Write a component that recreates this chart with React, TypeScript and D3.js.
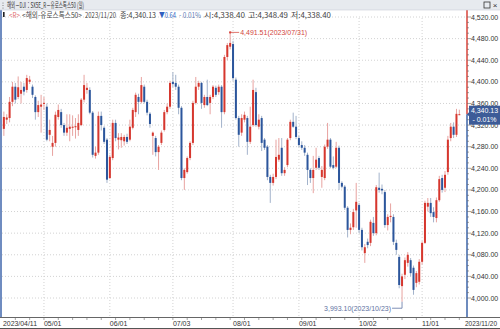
import React from 'react';
import * as d3 from 'd3';

// ---- DATA ----
const firstDate = '2023-04-11';
const lastDate = '2023-11-20';

const opens = [
  4313, 4330, 4333, 4363, 4391, 4372, 4378, 4391, 4385, 4400,
  4391, 4372, 4344, 4354, 4360, 4354, 4302, 4280, 4287, 4335,
  4344, 4320, 4306, 4313, 4315, 4316, 4311, 4320, 4367, 4385,
  4385, 4343, 4263, 4269, 4337, 4315, 4293, 4222, 4259, 4324,
  4293, 4292, 4290, 4298, 4293, 4315, 4344, 4372, 4363, 4391,
  4363, 4341, 4300, 4296, 4270, 4287, 4311, 4344, 4354, 4400,
  4398, 4391, 4352, 4222, 4233, 4259, 4287, 4361, 4391, 4398,
  4357, 4372, 4361, 4372, 4389, 4381, 4391, 4344, 4446, 4465,
  4470, 4404, 4333, 4306, 4330, 4333, 4289, 4320, 4381, 4317,
  4333, 4293, 4280, 4224, 4213, 4224, 4256, 4278, 4231, 4246,
  4296, 4326, 4317, 4296, 4283, 4278, 4265, 4237, 4222, 4241,
  4259, 4224, 4222, 4280, 4293, 4246, 4243, 4278, 4213, 4206,
  4167, 4126, 4131, 4162, 4172, 4126, 4083, 4104, 4102, 4139,
  4120, 4204, 4202, 4196, 4135, 4150, 4150, 4102, 4076, 4022,
  4043, 4065, 4070, 4056, 4028, 4030, 4067, 4102, 4169, 4176,
  4159, 4148, 4181, 4222, 4204, 4233, 4296, 4317, 4302, 4338.40,
];
const highs = [
  4345, 4340, 4372, 4400, 4398, 4410, 4400, 4398, 4413, 4411,
  4395, 4375, 4365, 4376, 4372, 4360, 4330, 4300, 4345, 4358,
  4350, 4324, 4340, 4340, 4338, 4333, 4340, 4370, 4413, 4398,
  4390, 4346, 4280, 4345, 4345, 4318, 4296, 4265, 4330, 4330,
  4305, 4305, 4302, 4304, 4330, 4352, 4380, 4378, 4409, 4395,
  4367, 4344, 4308, 4300, 4283, 4310, 4348, 4360, 4402, 4418,
  4413, 4395, 4355, 4240, 4262, 4290, 4365, 4409, 4402, 4400,
  4376, 4404, 4376, 4394, 4393, 4395, 4394, 4450, 4472, 4491.51,
  4476, 4408, 4337, 4340, 4345, 4337, 4354, 4404, 4389, 4340,
  4337, 4296, 4283, 4228, 4230, 4293, 4296, 4296, 4242, 4296,
  4330, 4343, 4337, 4300, 4290, 4283, 4269, 4240, 4263, 4278,
  4263, 4244, 4284, 4324, 4296, 4262, 4289, 4282, 4216, 4209,
  4170, 4138, 4165, 4213, 4176, 4130, 4100, 4110, 4145, 4150,
  4209, 4232, 4210, 4200, 4155, 4175, 4155, 4108, 4080, 4045,
  4075, 4085, 4074, 4060, 4050, 4072, 4105, 4180, 4185, 4185,
  4168, 4186, 4226, 4228, 4235, 4300, 4324, 4325, 4350, 4348.49,
];
const lows = [
  4300, 4322, 4325, 4355, 4360, 4368, 4360, 4375, 4380, 4396,
  4370, 4330, 4335, 4306, 4348, 4290, 4290, 4263, 4280, 4330,
  4315, 4300, 4300, 4290, 4300, 4295, 4300, 4318, 4362, 4378,
  4340, 4260, 4258, 4265, 4310, 4285, 4213, 4220, 4255, 4290,
  4275, 4278, 4282, 4285, 4290, 4312, 4335, 4340, 4360, 4360,
  4338, 4315, 4265, 4262, 4237, 4283, 4308, 4340, 4350, 4390,
  4385, 4340, 4218, 4200, 4230, 4255, 4283, 4358, 4385, 4350,
  4352, 4355, 4340, 4368, 4372, 4376, 4315, 4340, 4440, 4460,
  4402, 4330, 4280, 4300, 4325, 4265, 4285, 4317, 4317, 4312,
  4272, 4274, 4218, 4176, 4208, 4220, 4252, 4226, 4226, 4242,
  4292, 4315, 4294, 4279, 4274, 4263, 4209, 4213, 4194, 4237,
  4237, 4204, 4218, 4276, 4240, 4238, 4240, 4200, 4203, 4163,
  4112, 4118, 4126, 4130, 4120, 4088, 4065, 4092, 4096, 4115,
  4116, 4195, 4192, 4130, 4125, 4140, 4098, 4080, 4018, 3993.10,
  4035, 4058, 4040, 4006, 4020, 4025, 4062, 4100, 4160, 4150,
  4140, 4140, 4178, 4195, 4196, 4228, 4290, 4296, 4298, 4338.40,
];
const closes = [
  4335, 4334, 4363, 4391, 4367, 4390, 4385, 4382, 4407, 4404,
  4376, 4344, 4357, 4358, 4361, 4293, 4311, 4287, 4339, 4348,
  4320, 4306, 4315, 4317, 4317, 4318, 4324, 4367, 4394, 4389,
  4343, 4265, 4269, 4337, 4320, 4289, 4219, 4261, 4324, 4296,
  4297, 4298, 4298, 4289, 4317, 4348, 4376, 4363, 4394, 4363,
  4343, 4322, 4306, 4270, 4280, 4306, 4344, 4354, 4398, 4396,
  4391, 4352, 4222, 4237, 4259, 4287, 4361, 4391, 4398, 4361,
  4372, 4357, 4372, 4391, 4376, 4391, 4344, 4446, 4468, 4472,
  4407, 4333, 4302, 4333, 4339, 4289, 4317, 4385, 4320, 4330,
  4287, 4278, 4224, 4213, 4224, 4261, 4265, 4231, 4237, 4293,
  4326, 4317, 4298, 4283, 4278, 4269, 4237, 4222, 4237, 4256,
  4241, 4237, 4280, 4293, 4243, 4241, 4278, 4213, 4206, 4167,
  4126, 4130, 4159, 4178, 4126, 4094, 4094, 4098, 4141, 4120,
  4205, 4200, 4199, 4135, 4150, 4152, 4104, 4089, 4024, 4040,
  4070, 4080, 4046, 4015, 4046, 4067, 4102, 4176, 4176, 4157,
  4150, 4181, 4220, 4200, 4228, 4293, 4317, 4302, 4340.77, 4340.13,
];

const yTickValues = [4000, 4040, 4080, 4120, 4160, 4200, 4240, 4280, 4320, 4360, 4400, 4440, 4480, 4520];
const monthTickDates = ['2023-05-01', '2023-06-01', '2023-07-03', '2023-08-01', '2023-09-01', '2023-10-02', '2023-11-01'];
const monthTickLabels = ['05/01', '06/01', '07/03', '08/01', '09/01', '10/02', '11/01'];
const firstLabel = '2023/04/11';
const lastLabel = '2023/11/20';

const titleText = '해외－DJI：SX5E_R－유로스톡스50 (일)';
const seriesName = '<해외-유로스톡스50>';
const highLabelDate = '2023/07/31';
const lowLabelDate = '2023/10/23';

function tradingDays(start: string, end: string): string[] {
  const out: string[] = [];
  const d = new Date(start + 'T00:00:00Z');
  const e = new Date(end + 'T00:00:00Z');
  while (d <= e) {
    const w = d.getUTCDay();
    if (w !== 0 && w !== 6) out.push(d.toISOString().slice(0, 10));
    d.setUTCDate(d.getUTCDate() + 1);
  }
  return out;
}

const dates = tradingDays(firstDate, lastDate);

const UP = '#d6372e';
const DOWN = '#2c569c';
const UP_WICK = '#e8a3a0';
const DOWN_WICK = '#a3b3cb';

export default function App() {
  const W = 500, H = 329;
  const n = closes.length;
  const x = d3.scaleBand<number>().domain(d3.range(n)).range([2, 461.2]).padding(0.3);
  const y = d3.scaleLinear().domain([4000, 4520]).range([298, 17]);
  const bw = x.bandwidth();
  const cx = (i: number) => (x(i) as number) + bw / 2;
  const fmt = d3.format(',.2f');
  const axisX = 467;
  const xAxisY = 317;
  const last = n - 1;
  const py = y(closes[last]);
  const change = closes[last] - closes[last - 1];
  const pct = (change / closes[last - 1]) * 100;

  const hiIdx = d3.maxIndex(highs);
  const loIdx = d3.minIndex(lows);
  const hx = cx(hiIdx), hy = y(highs[hiIdx]);
  const lx = cx(loIdx), ly = y(lows[loIdx]);

  const minorY = d3.range(4000, 4521, 10);
  const font = "'Liberation Sans', 'Noto Sans CJK KR', sans-serif";
  const kfont = "'Noto Sans CJK KR', 'Liberation Sans', sans-serif";

  // header info segments: text, x, width, colour
  const info = [
    { t: '<R>', x: 9, w: 11, c: '#e26f6f' },
    { t: seriesName, x: 22, w: 60, c: '#444' },
    { t: lastLabel, x: 85, w: 31, c: '#444' },
    { t: '종:' + fmt(closes[last]), x: 120, w: 36, c: '#444' },
    { t: '▼' + Math.abs(change).toFixed(2), x: 159, w: 17, c: '#2f5fc0' },
    { t: '- ' + Math.abs(pct).toFixed(2) + '%', x: 179, w: 22, c: '#5b79b3' },
    { t: '시:' + fmt(opens[last]), x: 204, w: 41, c: '#444' },
    { t: '고:' + fmt(highs[last]), x: 248, w: 40, c: '#444' },
    { t: '저:' + fmt(lows[last]), x: 291, w: 40, c: '#444' },
  ];

  return (
    <svg width={W} height={H} style={{ position: 'absolute', left: 0, top: 0, background: '#fff' }}>
      <rect x={0} y={0} width={W} height={H} fill="#fff" />
      {/* grid */}
      {yTickValues.map((v) => (
        <line key={'gy' + v} x1={2} x2={axisX} y1={y(v)} y2={y(v)} stroke="#d2d2d2" strokeDasharray="1,2" />
      ))}
      {monthTickDates.map((d) => {
        const i = dates.indexOf(d);
        return <line key={'gx' + d} x1={cx(i)} x2={cx(i)} y1={18} y2={xAxisY} stroke="#d2d2d2" strokeDasharray="1,2" />;
      })}

      {/* candles */}
      {closes.map((c, i) => {
        const o = opens[i];
        const up = c >= o;
        const top = y(Math.max(o, c));
        const bot = y(Math.min(o, c));
        return (
          <g key={'c' + i}>
            <line x1={cx(i)} x2={cx(i)} y1={y(highs[i])} y2={y(lows[i])} stroke={up ? UP_WICK : DOWN_WICK} strokeWidth={1} />
            <rect x={x(i)} y={top} width={bw} height={Math.max(1, bot - top)} fill={up ? UP : DOWN} />
          </g>
        );
      })}

      {/* high / low annotations */}
      <rect x={hx - 1} y={hy - 1} width={2} height={2} fill={UP} />
      <line x1={hx} x2={hx + 9} y1={hy} y2={hy} stroke="#d9534a" strokeWidth={0.8} />
      <text x={hx + 10} y={hy + 2.5} fontSize={7} fontFamily={font} fill="#d2463d">
        {fmt(highs[hiIdx])}({highLabelDate})
      </text>
      <polyline points={`${lx - 10},${ly + 6.5} ${lx},${ly + 6.5} ${lx},${ly}`} fill="none" stroke="#5f73a3" strokeWidth={0.8} />
      <text x={lx - 11} y={ly + 9} fontSize={7} fontFamily={font} fill="#5f73a3" textAnchor="end">
        {fmt(lows[loIdx])}({lowLabelDate})
      </text>

      {/* left border */}
      <rect x={0} y={10} width={2} height={xAxisY - 10} fill="#6f8cc0" />

      {/* right axis line */}
      <line x1={axisX} x2={axisX} y1={10} y2={py} stroke="#d9433a" strokeWidth={1.5} />
      <line x1={axisX} x2={axisX} y1={py} y2={xAxisY} stroke="#3d64a8" strokeWidth={1.5} />
      {minorY.map((v) => (
        <line key={'mt' + v} x1={axisX} x2={axisX + (v % 40 === 0 ? 4 : 2)} y1={y(v)} y2={y(v)} stroke="#666" strokeWidth={0.6} />
      ))}
      {yTickValues.map((v) => (
        <text key={'yl' + v} x={471} y={y(v) + 2.5} fontSize={7} fontFamily={font} fill="#333">
          {fmt(v)}
        </text>
      ))}

      {/* current price box */}
      <polygon points={`${axisX},${py} ${axisX + 3},${py - 3} ${axisX + 3},${py + 3}`} fill="#3d5c98" />
      <rect x={axisX + 2} y={py - 8.5} width={31} height={19} fill="#3d5c98" />
      <text x={axisX + 17.5} y={py - 1} fontSize={7} fontFamily={font} fill="#fff" textAnchor="middle">
        {fmt(closes[last])}
      </text>
      <text x={axisX + 17.5} y={py + 7.5} fontSize={7} fontFamily={font} fill="#fff" textAnchor="middle">
        {'- ' + Math.abs(pct).toFixed(2) + '%'}
      </text>

      {/* x axis */}
      <rect x={0} y={xAxisY} width={W} height={H - xAxisY} fill="#fff" />
      <line x1={0} x2={W} y1={xAxisY + 0.5} y2={xAxisY + 0.5} stroke="#666" strokeWidth={1} />
      {dates.map((d, i) =>
        new Date(d + 'T00:00:00Z').getUTCDay() === 1 ? (
          <line key={'wt' + i} x1={cx(i)} x2={cx(i)} y1={xAxisY + 1} y2={xAxisY + 3} stroke="#666" strokeWidth={0.6} />
        ) : null
      )}
      <text x={3} y={326} fontSize={7} fontFamily={font} fill="#333" textLength={34} lengthAdjust="spacingAndGlyphs">{firstLabel}</text>
      {monthTickDates.map((d, k) => {
        const i = dates.indexOf(d);
        return (
          <text key={'xl' + d} x={cx(i)} y={326} fontSize={7} fontFamily={font} fill="#333">
            {monthTickLabels[k]}
          </text>
        );
      })}
      <text x={497} y={326} fontSize={7} fontFamily={font} fill="#333" textAnchor="end" textLength={32} lengthAdjust="spacingAndGlyphs">{lastLabel}</text>
      <line x1={0} x2={W} y1={328.5} y2={328.5} stroke="#555" strokeWidth={1} />

      {/* header bar */}
      <rect x={0} y={0} width={W} height={10} fill="#e7eaef" />
      <line x1={0} x2={W} y1={10} y2={10} stroke="#c9ced6" strokeWidth={0.6} />
      <circle cx={3} cy={3} r={0.6} fill="#777" />
      <circle cx={3} cy={5.5} r={0.6} fill="#777" />
      <circle cx={3} cy={8} r={0.6} fill="#777" />
      <text x={7} y={8} fontSize={8} fontFamily={kfont} fill="#333" textLength={77} lengthAdjust="spacingAndGlyphs">
        {titleText}
      </text>
      <rect x={484} y={2} width={6} height={6} fill="none" stroke="#333" strokeWidth={0.8} />
      <text x={495} y={8} fontSize={8} fontFamily={font} fill="#333" textAnchor="middle">×</text>

      {/* info line */}
      <rect x={3} y={12} width={1.6} height={5} fill="#222" />
      {info.map((s, k) => (
        <text key={'inf' + k} x={s.x} y={17.5} fontSize={7.5} fontFamily={kfont} fill={s.c} textLength={s.w} lengthAdjust="spacingAndGlyphs">
          {s.t}
        </text>
      ))}
    </svg>
  );
}
